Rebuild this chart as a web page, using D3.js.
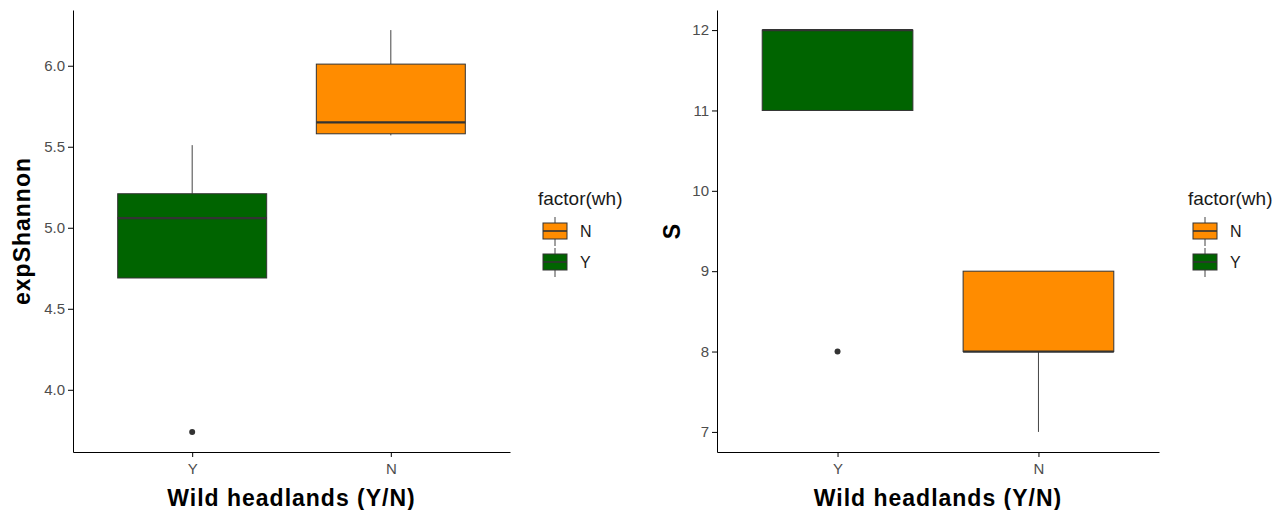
<!DOCTYPE html>
<html>
<head>
<meta charset="utf-8">
<script src="https://cdn.jsdelivr.net/npm/d3@7"></script>
<style>
  body { margin: 0; background: #fff; }
  svg { display: block; font-family: "Liberation Sans", Arial, sans-serif; }
  .axis path, .axis line { stroke: #000; }
  .axis text { fill: #4d4d4d; font-size: 15px; }
</style>
</head>
<body>
<div class="canvas"></div>
<script>
// groups on the x axis, in drawing order
const categories = ["Y", "N"];
// legend order (ggplot sorts the factor levels)
const legendLevels = ["N", "Y"];
const fills = { Y: "#006400", N: "#ff8c00" };

// exp(Shannon) boxplot stats, per category
const shannonQ1 = [4.69, 5.58];
const shannonMedian = [5.06, 5.65];
const shannonQ3 = [5.21, 6.01];
const shannonLow = [4.69, 5.57];
const shannonHigh = [5.51, 6.22];
const shannonOutliers = [[3.74], []];

// richness S boxplot stats, per category
const richQ1 = [11, 8];
const richMedian = [12, 8];
const richQ3 = [12, 9];
const richLow = [11, 7];
const richHigh = [12, 9];
const richOutliers = [[8], []];

function makeStats(q1, med, q3, lo, hi, out) {
  return categories.map((c, i) => ({
    cat: c, q1: q1[i], median: med[i], q3: q3[i], lo: lo[i], hi: hi[i], out: out[i]
  }));
}

const svg = d3.select(".canvas").append("svg")
  .attr("width", 1281)
  .attr("height", 510);

function drawPanel(opts) {
  const { left, right, top, bottom, stats, yTitle, yFormat, legendX } = opts;
  const width = right - left;
  const height = bottom - top;

  const all = stats.flatMap(d => [d.lo, d.hi, d.q1, d.q3, ...d.out]);
  const [mn, mx] = d3.extent(all);
  const pad = (mx - mn) * 0.05;

  const x = d3.scalePoint().domain(categories).range([0, width]).padding(0.6);
  const y = d3.scaleLinear().domain([mn - pad, mx + pad]).range([height, 0]);
  const boxW = x.step() * 0.75;

  const g = svg.append("g").attr("transform", `translate(${left},${top})`);

  const yAxis = d3.axisLeft(y).ticks(6).tickFormat(d3.format(yFormat)).tickSize(5).tickPadding(3).tickSizeOuter(0);
  const xAxis = d3.axisBottom(x).tickSize(5).tickPadding(4).tickSizeOuter(0);

  g.append("g").attr("class", "axis").call(yAxis)
    .call(s => s.selectAll(".tick line").attr("stroke", "#333"));
  g.append("g").attr("class", "axis").attr("transform", `translate(0,${height})`).call(xAxis)
    .call(s => s.selectAll(".tick line").attr("stroke", "#333"))
    .call(s => s.selectAll("text").attr("dy", "0.85em"));

  const box = g.selectAll(".box").data(stats).enter().append("g").attr("class", "box");

  box.append("line")
    .attr("x1", d => x(d.cat)).attr("x2", d => x(d.cat))
    .attr("y1", d => y(d.q3)).attr("y2", d => y(d.hi))
    .attr("stroke", "#444").attr("stroke-width", 1);
  box.append("line")
    .attr("x1", d => x(d.cat)).attr("x2", d => x(d.cat))
    .attr("y1", d => y(d.q1)).attr("y2", d => y(d.lo))
    .attr("stroke", "#444").attr("stroke-width", 1);

  box.append("rect")
    .attr("x", d => x(d.cat) - boxW / 2)
    .attr("width", boxW)
    .attr("y", d => y(d.q3))
    .attr("height", d => y(d.q1) - y(d.q3))
    .attr("fill", d => fills[d.cat])
    .attr("stroke", "#333")
    .attr("stroke-width", 1);

  box.append("line")
    .attr("x1", d => x(d.cat) - boxW / 2).attr("x2", d => x(d.cat) + boxW / 2)
    .attr("y1", d => y(d.median)).attr("y2", d => y(d.median))
    .attr("stroke", "#333").attr("stroke-width", 2.2);

  box.selectAll("circle").data(d => d.out.map(v => ({ cat: d.cat, v })))
    .enter().append("circle")
    .attr("cx", d => x(d.cat)).attr("cy", d => y(d.v)).attr("r", 3)
    .attr("fill", "#333");

  // axis titles
  g.append("text")
    .attr("x", width / 2).attr("y", height + 54)
    .attr("text-anchor", "middle")
    .attr("font-size", "23px").attr("font-weight", "bold")
    .attr("letter-spacing", "1px")
    .text("Wild headlands (Y/N)");

  g.append("text")
    .attr("transform", `translate(${opts.yTitleX - left},${height / 2}) rotate(-90)`)
    .attr("text-anchor", "middle")
    .attr("font-size", "23px").attr("font-weight", "bold")
    .attr("letter-spacing", "1px")
    .text(yTitle);

  // legend
  const lg = svg.append("g").attr("transform", `translate(${legendX},196)`);
  lg.append("text").attr("x", 0).attr("y", 9)
    .attr("font-size", "19px").attr("fill", "#1a1a1a")
    .text("factor(wh)");

  const key = lg.selectAll(".key").data(legendLevels).enter().append("g")
    .attr("transform", (d, i) => `translate(5,${27 + i * 31})`);
  key.append("line").attr("x1", 12).attr("x2", 12).attr("y1", -6).attr("y2", 23)
    .attr("stroke", "#444");
  key.append("rect").attr("width", 24).attr("height", 16)
    .attr("fill", d => fills[d]).attr("stroke", "#333");
  key.append("line").attr("x1", 0).attr("x2", 24).attr("y1", 8).attr("y2", 8)
    .attr("stroke", "#333").attr("stroke-width", 1.6);
  key.append("text").attr("x", 37).attr("y", 8).attr("dy", "0.35em")
    .attr("font-size", "16px").attr("fill", "#1a1a1a")
    .text(d => d);
}

drawPanel({
  left: 73, right: 510, top: 10, bottom: 452,
  stats: makeStats(shannonQ1, shannonMedian, shannonQ3, shannonLow, shannonHigh, shannonOutliers),
  yTitle: "expShannon", yFormat: ".1f", yTitleX: 30, legendX: 538
});

drawPanel({
  left: 717, right: 1159, top: 10, bottom: 452,
  stats: makeStats(richQ1, richMedian, richQ3, richLow, richHigh, richOutliers),
  yTitle: "S", yFormat: "d", yTitleX: 680, legendX: 1188
});
</script>
</body>
</html>
